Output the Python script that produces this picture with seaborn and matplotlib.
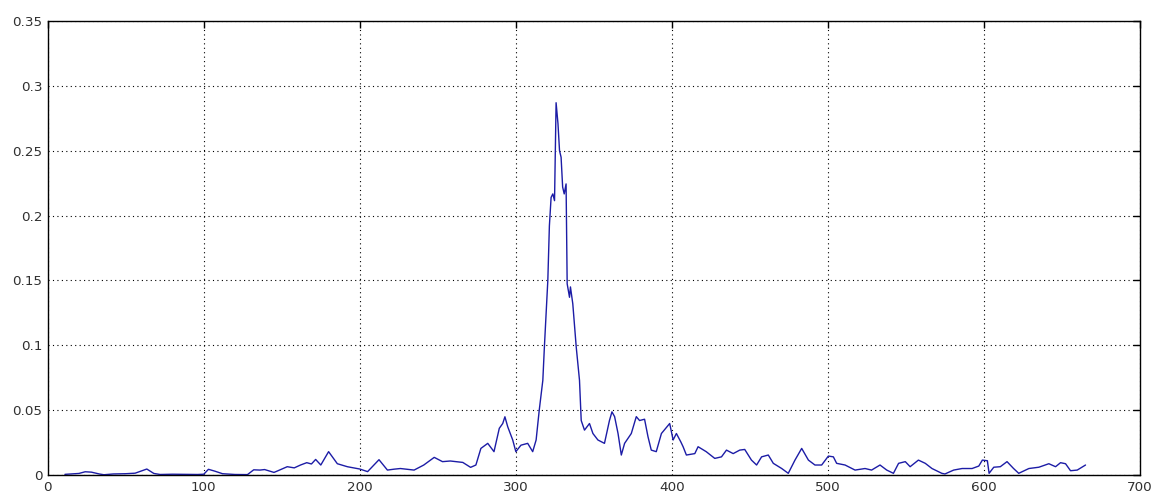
import matplotlib
matplotlib.use("Agg")
import matplotlib.pyplot as plt
import seaborn as sns
import pandas as pd
import numpy as np

x_vals = [11, 15, 20, 24, 28, 33, 36, 42, 50, 56, 63.5, 68, 72, 80, 90, 96, 100, 103, 107, 112, 120, 128,
          132, 136, 139, 145, 147, 153.5, 158, 162, 166, 169, 171.7, 175, 180, 185.6, 192, 200, 205, 212.3,
          217.7, 222, 226, 234.8, 241, 247.7, 253, 258, 266, 271, 274.4, 277.6, 282, 286, 289.4, 291.6, 293,
          294.8, 298, 300, 303.3, 307.6, 310.8, 313, 315, 317.3, 318.3, 320.5, 321.5, 322.6, 323.7, 324.8,
          325.8, 327, 328, 329, 330, 331, 332.2, 332.9, 334.4, 335, 336.5, 338.7, 340.8, 341.9, 344, 347.2,
          349.4, 352.6, 356.8, 360, 361.6, 363.3, 365.5, 367.6, 369.7, 374, 377.2, 379.3, 382.5, 384.7,
          386.8, 390, 393.3, 398.6, 400.8, 402.9, 405.7, 407.2, 409.3, 414.7, 416.8, 422, 427.5, 431.8, 435,
          439.3, 443.5, 446.7, 451, 454.3, 457.5, 461.8, 465, 470.4, 474.6, 478.9, 483.2, 487.5, 491.7, 496,
          500.3, 503.5, 505.6, 511, 517.4, 523.8, 528, 533.4, 537.7, 542, 545.3, 549.6, 552.7, 558, 562.4,
          566.7, 573, 575, 580.6, 586, 592.4, 596.7, 599, 602.2, 603.3, 606.3, 610.5, 614.8, 619, 622.3,
          628.8, 635.2, 641.6, 645.9, 649.1, 652.3, 655.5, 659.8, 665.1]
y_vals = [0.0005, 0.0008, 0.0012, 0.0025, 0.0022, 0.0008, 0.0002, 0.0008, 0.0010, 0.0014, 0.0046, 0.0012,
          0.0004, 0.0006, 0.0005, 0.0004, 0.0006, 0.0044, 0.0030, 0.0010, 0.0004, 0.0003,
          0.0040, 0.0038, 0.0042, 0.0020, 0.0030, 0.0064, 0.0055, 0.0077, 0.0095, 0.0085, 0.0120, 0.0077,
          0.0180, 0.0087, 0.0064, 0.0046, 0.0026, 0.0118,
          0.0038, 0.0045, 0.0050, 0.0038, 0.0077, 0.0136, 0.0103, 0.0108, 0.0097, 0.0059, 0.0077, 0.0205,
          0.0244, 0.0180, 0.0360, 0.0397, 0.0449,
          0.0372, 0.0270, 0.0180, 0.0230, 0.0244, 0.0180, 0.0270, 0.0500, 0.0730, 0.0987, 0.1500, 0.1920,
          0.2140, 0.2167, 0.2115,
          0.2870, 0.2710, 0.2500, 0.2450, 0.2220, 0.2167, 0.2244, 0.1474, 0.1370, 0.1450, 0.1320, 0.0987,
          0.0730, 0.0420, 0.0346, 0.0397,
          0.0320, 0.0270, 0.0244, 0.0420, 0.0487, 0.0450, 0.0320, 0.0154, 0.0244, 0.0320, 0.0450, 0.0420,
          0.0430, 0.0295,
          0.0192, 0.0180, 0.0320, 0.0397, 0.0270, 0.0320, 0.0256, 0.0218, 0.0154, 0.0165, 0.0218, 0.0180,
          0.0128, 0.0140, 0.0192,
          0.0165, 0.0192, 0.0197, 0.0115, 0.0077, 0.0140, 0.0154, 0.0090, 0.0050, 0.0013, 0.0115, 0.0205,
          0.0115, 0.0077, 0.0077,
          0.0146, 0.0140, 0.0090, 0.0077, 0.0038, 0.0050, 0.0038, 0.0077, 0.0038, 0.0013, 0.0090, 0.0103,
          0.0064, 0.0115, 0.0090,
          0.0050, 0.0013, 0.0008, 0.0038, 0.0050, 0.0050, 0.0069, 0.0115, 0.0110, 0.0013, 0.0060, 0.0064,
          0.0103, 0.0050, 0.0013,
          0.0050, 0.0060, 0.0087, 0.0064, 0.0095, 0.0087, 0.0033, 0.0038, 0.0077]

x_ticks = [0, 100, 200, 300, 400, 500, 600, 700]
y_ticks = [0, 0.05, 0.1, 0.15, 0.2, 0.25, 0.3, 0.35]
y_tick_labels = ["0", "0.05", "0.1", "0.15", "0.2", "0.25", "0.3", "0.35"]

sns.set_style("white")
plt.rcParams['font.family'] = ['DejaVu Sans']

df = pd.DataFrame({"x": x_vals, "y": y_vals})

fig = plt.figure(figsize=(11.53, 4.93), dpi=100)
ax = fig.add_axes([0.0414, 0.0365, 0.9473, 0.9209])
sns.lineplot(data=df, x="x", y="y", ax=ax, color="#1c1ca6", linewidth=1.0, sort=False)

ax.set_xlim(0, 700)
ax.set_ylim(0, 0.35)
ax.set_xticks(x_ticks)
ax.set_xticklabels([str(t) for t in x_ticks])
ax.set_yticks(y_ticks)
ax.set_yticklabels(y_tick_labels)
ax.set_xlabel("")
ax.set_ylabel("")
ax.grid(True, color="black", linestyle=(0, (1, 3)), linewidth=0.8)
ax.tick_params(direction="in", length=5, width=1, top=True, right=True,
               labelsize=9.7, colors="black", labelcolor="#303030", pad=4)
for s in ax.spines.values():
    s.set_color("black")
    s.set_linewidth(1.0)
    s.set_visible(True)

fig.savefig("out.png", dpi=100, facecolor="white")
